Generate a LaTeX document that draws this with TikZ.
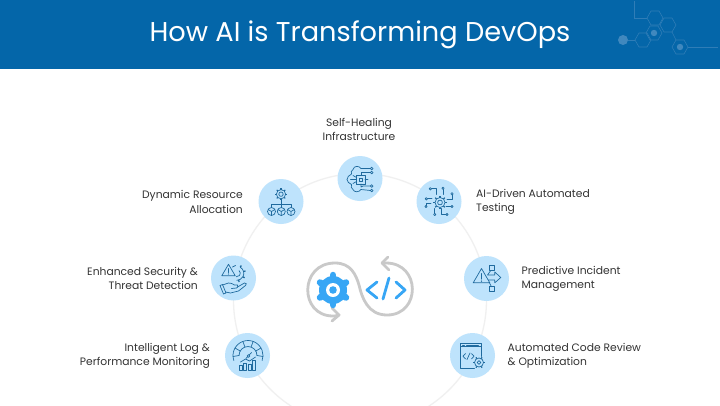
\documentclass[tikz,border=0pt]{standalone}
\usepackage{fontspec}
\setmainfont{Poppins}
\usetikzlibrary{calc}
\definecolor{hdr}{HTML}{0466A9}
\definecolor{hex}{HTML}{2F7DB7}
\definecolor{hexf}{HTML}{4088BE}
\definecolor{disc}{HTML}{BEE3FC}
\definecolor{ink}{HTML}{1F6A9E}
\definecolor{ring}{HTML}{F0F0F0}
\definecolor{loopc}{HTML}{C9C9C9}
\definecolor{cblue}{HTML}{37A6F5}
\definecolor{txt}{HTML}{333333}
\tikzset{
 x=1pt,y=-1pt,
 disc/.style={circle,fill=disc,minimum size=45pt,inner sep=0pt},
 lbl/.style={font=\fontsize{10.75}{14.2}\selectfont,text=txt,align=left,anchor=west,inner sep=0pt},
 lblr/.style={font=\fontsize{10.75}{14.2}\selectfont,text=txt,align=right,anchor=east,inner sep=0pt},
 ico/.style={draw=ink,line width=.7pt,line cap=round,line join=round},
 hexl/.style={draw=hex,line width=.6pt},
}
\newcommand{\hexa}[3][]{\draw[hexl,#1] (#2+8,#3) -- (#2+4,#3-7) -- (#2-4,#3-7) -- (#2-8,#3) -- (#2-4,#3+7) -- (#2+4,#3+7) -- cycle;}
\newcommand{\smallgear}[3]{\draw[ico] (#1,#2) circle (#3);\foreach \a in {0,60,...,300} \draw[ico,line width=1.1pt,line cap=butt] ($(#1,#2)+(\a:#3)$) -- ($(#1,#2)+(\a:#3+1.5)$);}
\begin{document}
\begin{tikzpicture}
\useasboundingbox (0,0) rectangle (720,405);
\fill[white] (0,0) rectangle (720,405);
\fill[hdr] (0,0) rectangle (720,69);
\node[font=\fontsize{27.2}{32}\selectfont,text=white,inner sep=0pt] (title) at (360,34.5) {How AI is Transforming DevOps};
% header decoration
\hexa{655}{18}\hexa{668}{25}\hexa{654}{33}\hexa{643}{40}\hexa{680}{47}
\fill[hexf] (654,33) circle (3.2);
\fill[hexf] (680,47) circle (3.2);
\fill[hexf] (623,40) circle (5);
\draw[hexl] (635,40) -- (628,40);
\draw[hexl] (634,1) -- (634,18) -- (647,18);
\draw[hexl] (688,47) -- (718,47);
\draw[hexl] (672,32) -- (676,40);
% ring
\begin{scope}
\clip (0,69) rectangle (720,405);
\draw[ring,line width=1.3pt] (360,300) circle (126.5);
\end{scope}
% discs
\node[disc] (n1) at (360,178.5) {};
\node[disc] (n2) at (439,201.5) {};
\node[disc] (n3) at (486.5,278.5) {};
\node[disc] (n4) at (472.5,355.5) {};
\node[disc] (n5) at (247.5,355.5) {};
\node[disc] (n6) at (233.5,278) {};
\node[disc] (n7) at (281,201.5) {};
% labels
\node[lbl] (t2) at (476,202) {AI-Driven Automated\\Testing};
\node[lbl] (t3) at (521.5,278.5) {Predictive Incident\\Management};
\node[lbl] (t4) at (507.5,355.5) {Automated Code Review\\\& Optimization};
\node[lblr] (t5) at (210,355.5) {Intelligent Log \&\\Performance Monitoring};
\node[lblr] (t6) at (198,278.5) {Enhanced Security \&\\Threat Detection};
\node[lblr] (t7) at (243,202) {Dynamic Resource\\Allocation};
\node[font=\fontsize{10.75}{14.2}\selectfont,text=txt,align=center,inner sep=0pt] (t1) at (359,129.5) {Self-Healing\\Infrastructure};
% icon 1: cloud chip
\begin{scope}[shift={(360,178.5)}]
 \draw[ico] (1,-10) .. controls (-1,-13) and (-6,-13) .. (-7,-9) .. controls (-9,-8) and (-9,-6) .. (-8.5,-4.5) .. controls (-11,-3.5) and (-13,-1) .. (-13,1) .. controls (-13,3) and (-11,5) .. (-8.5,6) .. controls (-9,8) and (-9,10) .. (-7,11) .. controls (-6,14) and (-1,14) .. (1,11);
 \draw[ico] (-3.5,-3) rectangle (5,5.5); \draw[ico] (-1,-.5) rectangle (2.5,3);
 \draw[ico] (1,-10) -- (10.5,-10) (1,-3) -- (1,-6) -- (10.5,-6);
 \draw[ico] (1,5.5) -- (1,8.5) -- (3,7.5) -- (10.5,7.5) (1,11) -- (10.5,12) (5,1) -- (8,1);
 \draw[ico] (-9.5,1) -- (-3.5,1) (-7,-3) -- (-3.5,-1) (-7,5) -- (-3.5,3);
 \foreach \y in {-10,-6,7.5,12} \draw[ico,fill=disc] (11.7,\y) circle (1.3);
\end{scope}
% icon 2: gear circuit
\begin{scope}[shift={(439,201.5)}]
 \draw[ico] (-8.7,-12.7) -- (-3,-12.7) -- (-3,-7);
 \draw[ico] (4,-13.3) -- (4,-7);
 \draw[ico] (13,-7.7) -- (13,-2) -- (8,-2);
 \draw[ico] (13,5) -- (7,5);
 \draw[ico] (8,13) -- (2,13) -- (2,7);
 \draw[ico] (-4.3,13) -- (-4.3,7);
 \draw[ico] (-13,5) -- (-13,2) -- (-8,2);
 \draw[ico] (-12.7,-2.7) -- (-7,-2.7);
 \foreach \x/\y in {-8.7/-12.7,4/-13.3,13/-7.7,13/5,8/13,-4.3/13,-13/5,-12.7/-2.7} \draw[ico,fill=disc] (\x,\y) circle (1.2);
 \draw[ico,fill=disc] (1,1) circle (2.4);
 \draw[ico] (1,1) circle (5);
 \foreach \a in {0,45,...,315} \draw[ico,line width=1.2pt,line cap=butt] ($(1,1)+(\a:5)$) -- ($(1,1)+(\a:6.8)$);
\end{scope}
% icon 3: warning, arrow, boxes
\begin{scope}[shift={(486.5,278.5)}]
 \draw[ico] (-5,-10) -- (-13.3,4.3) -- (3.3,4.3) -- cycle;
 \draw[ico,line width=1pt] (-5,-5) -- (-5,.5); \fill[ink] (-5,2.6) circle (.7);
 \draw[ico] (2.7,-13.3) rectangle (7.7,-7.7); \draw[ico] (2.7,8.3) rectangle (7.7,13.3);
 \draw[ico] (4,-7.7) -- (1,-3.5) -- (8.3,-3.5) -- (8.3,-6.5) -- (14.3,-1) -- (8.3,4.3) -- (8.3,1.5) -- (2,1.5);
 \draw[ico] (3,4.3) -- (5,8.3);
\end{scope}
% icon 4: code window
\begin{scope}[shift={(472.5,355.5)}]
 \draw[ico] (9,1) -- (9,-12) -- (-11.8,-12) -- (-11.8,13) -- (2,13);
 \draw[ico] (-11.8,-8.7) -- (9,-8.7);
 \draw[ico] (-10,-10.4) -- (-8,-10.4) (-6,-10.4) -- (6,-10.4);
 \draw[ico] (-7,-2) -- (-9.5,.7) -- (-7,3.4) (-1,-2) -- (1.5,.7) -- (-1,3.4) (-5.5,4) -- (-2.5,-2.5);
 \draw[ico,fill=disc] (6.5,7) circle (4.5); \draw[ico] (6.5,7) circle (1.8);
 \foreach \a in {0,60,...,300} \draw[ico,line width=1.2pt,line cap=butt] ($(6.5,7)+(\a:4.5)$) -- ($(6.5,7)+(\a:6)$);
\end{scope}
% icon 5: gauge
\begin{scope}[shift={(247.5,355.5)}]
 \draw[ico] (0.5,0) ++(160:15) arc (160:380:15);
 \draw[ico] (0.5,0) ++(180:9) arc (180:360:9);
 \foreach \a in {210,250,290,330} \draw[ico] ($(0.5,0)+(\a:9)$) -- ($(0.5,0)+(\a:15)$);
 \draw[ico] (-14.5,1) -- (-8.5,0) (9.5,0) -- (15.5,1);
 \draw[ico] (-1.5,3) -- (4,-3); \draw[ico,fill=disc] (1,.5) circle (1.4);
 \draw[ico] (-7,6.5) -- (-2,3.5) -- (2,5.5) -- (8,1.5);
 \foreach \x/\t in {-7/10,-2.5/8,2/8.5,6.5/5} \draw[ico] (\x-1.5,15) rectangle (\x+1.5,\t);
\end{scope}
% icon 6: hand, warning, gear
\begin{scope}[shift={(233.5,278)}]
 \draw[ico] (3.3,-4.7) ++(-60:7) arc (-60:90:7);
 \draw[ico] (3.3,-4.7) ++(-50:3.5) arc (-50:100:3.5);
 \foreach \a in {-60,-15,30,75} \draw[ico,line width=1.3pt,line cap=butt] ($(3.3,-4.7)+(\a:7)$) -- ($(3.3,-4.7)+(\a:9)$);
 \draw[ico] (-1,-11) -- (2,-12.5);
 \draw[ico] (-5,-13.7) -- (-11.7,-2.3) -- (1.7,-2.3) -- cycle;
 \draw[ico,line width=1pt] (-5,-9.5) -- (-5,-5.5); \fill[ink] (-5,-4) circle (.6);
 \draw[ico] (-11,7) -- (-5,5) .. controls (-3,4.5) and (-1,6) .. (1,7) -- (4,7) .. controls (5,8) and (4,10) .. (3,10) -- (-2,10.5);
 \draw[ico] (4,9) -- (11,5) .. controls (13,4.5) and (13.5,6.5) .. (12,7.5) -- (5,13) -- (-3,15) -- (-8,14);
 \draw[ico] (-13.5,7.5) -- (-11,6.5) -- (-7.5,15) -- (-10,16) -- cycle;
\end{scope}
% icon 7: hierarchy
\begin{scope}[shift={(281,201.5)}]
 \draw[ico] (0,-7.3) circle (2.2); \draw[ico] (0,-7.3) circle (4.6);
 \foreach \a in {0,45,...,315} \draw[ico,line width=1.1pt,line cap=butt] ($(0,-7.3)+(\a:4.6)$) -- ($(0,-7.3)+(\a:6)$);
 \draw[ico] (0,-1.3) -- (0,6) (-9.5,6) -- (-9.5,2.7) -- (10,2.7) -- (10,6);
 \foreach \x in {-9.5,0.3,10} {\draw[ico] (\x,10) circle (4); \draw[ico] (\x,10) -- (\x,14) (\x,10) -- (\x-3.4,8) (\x,10) -- (\x+3.4,8);}
\end{scope}
% central
\draw[loopc,line width=2.8pt,line cap=round] (339,315) .. controls (336,316) and (334,316) .. (333,316) .. controls (299,316) and (299,263) .. (335,263) .. controls (351,263) and (356,275) .. (359,285) .. controls (362,298) and (368,315) .. (387,315) .. controls (421,315) and (421,263) .. (386,263) -- (382,263);
\draw[loopc,line width=2.8pt,line cap=round,line join=round] (332,308) -- (339,315) -- (332,321);
\draw[loopc,line width=2.8pt,line cap=round,line join=round] (388,257) -- (382,263) -- (389,270);
\fill[cblue] (333,290) circle (14);
\foreach \a in {0,60,...,300} \draw[cblue,line width=6.5pt,line cap=round] ($(333,290)+(\a+30:12)$) -- ($(333,290)+(\a+30:15)$);
\fill[white] (333,290) circle (7);
\fill[cblue] (333,290) circle (3.8);
\draw[cblue,line width=2.8pt,line cap=round,line join=round] (377,282) -- (367,290) -- (377,298) (396,282) -- (405,290) -- (396,298) (389,278) -- (383,299);
\end{tikzpicture}
\end{document}
